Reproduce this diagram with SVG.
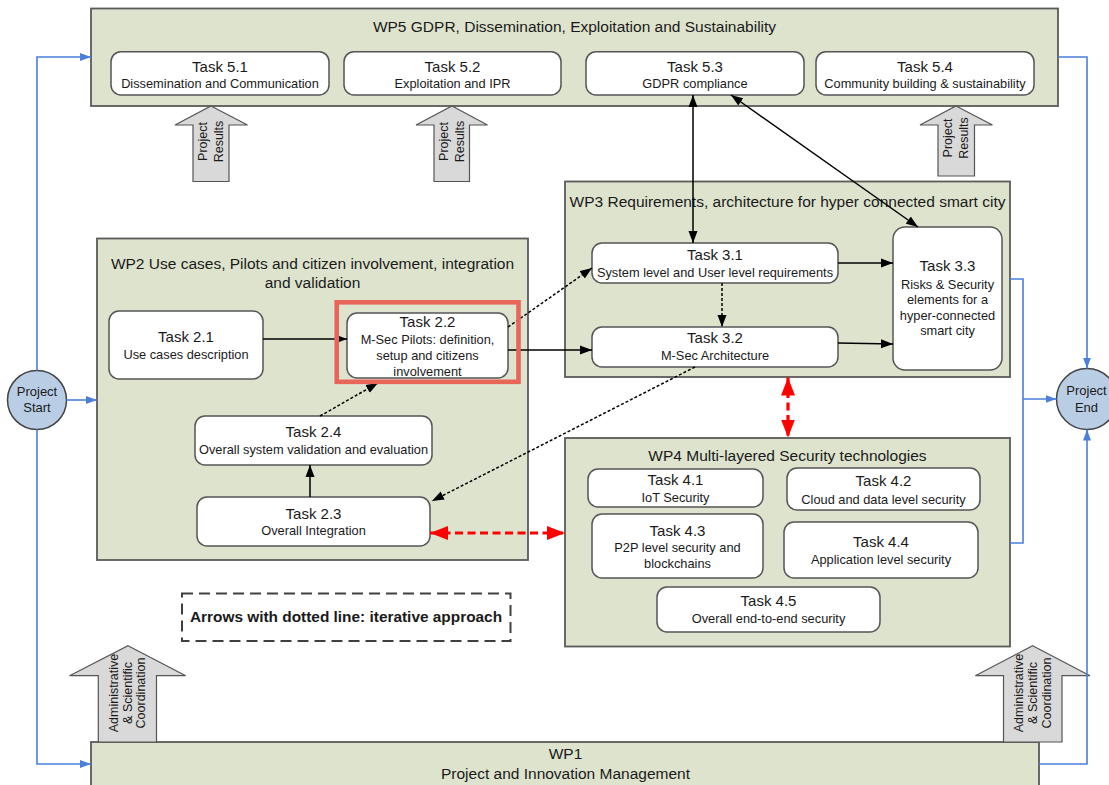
<svg xmlns="http://www.w3.org/2000/svg" width="1109" height="785" viewBox="0 0 1109 785">
<defs>
<marker id="ah" markerUnits="userSpaceOnUse" markerWidth="13" markerHeight="10" refX="12" refY="5" orient="auto-start-reverse"><path d="M0,0.5 L12,5 L0,9.5 z" fill="#000"/></marker>
<marker id="ahb" markerUnits="userSpaceOnUse" markerWidth="12" markerHeight="10" refX="11" refY="5" orient="auto-start-reverse"><path d="M0,1 L11,5 L0,9 z" fill="#4a7fdc"/></marker>
<marker id="ahr" markerUnits="userSpaceOnUse" markerWidth="19" markerHeight="15" refX="18" refY="7.5" orient="auto-start-reverse"><path d="M0,0.5 L18,7.5 L0,14.5 z" fill="#ff0000"/></marker>
</defs>
<style>
.wp{fill:#dee3cd;stroke:#5a5a5a;stroke-width:1.8}
.task{fill:#fff;stroke:#555;stroke-width:1.5}
.t{font-family:"Liberation Sans",Arial,sans-serif;fill:#1a1a1a;text-anchor:middle}
.wt{font-size:15.5px}
.tt{font-size:15px}
.st{font-size:12.8px}
.rt{font-size:12.5px}
.big{fill:#d9d9d9;stroke:#555;stroke-width:1.2}
.circ{fill:#b9cde5;stroke:#444;stroke-width:1.5}
.ln{stroke:#000;stroke-width:1.5;fill:none}
.dot{stroke:#000;stroke-width:1.5;fill:none;stroke-dasharray:3 2}
.blue{stroke:#4a7fdc;stroke-width:1.6;fill:none}
.red{stroke:#ff0000;stroke-width:3.2;fill:none;stroke-dasharray:8 4.5}
</style>
<rect x="0" y="0" width="1109" height="785" fill="#fff"/>

<g id="wp5">
<rect class="wp" x="91" y="8.5" width="967" height="97.5"/>
<text class="t wt" x="574.5" y="32">WP5 GDPR, Dissemination, Exploitation and Sustainability</text>
</g>
<g id="wp3">
<rect class="wp" x="565" y="181.5" width="445" height="195.5"/>
<text class="t wt" x="787.5" y="207">WP3 Requirements, architecture for hyper connected smart city</text>
</g>
<g id="wp2">
<rect class="wp" x="97" y="238.5" width="431" height="321.5"/>
<text class="t wt" x="312.5" y="269">WP2 Use cases, Pilots and citizen involvement, integration</text>
<text class="t wt" x="312.5" y="288">and validation</text>
</g>
<g id="wp4">
<rect class="wp" x="565" y="438" width="445" height="208.5"/>
<text class="t wt" x="787.5" y="461">WP4 Multi-layered Security technologies</text>
</g>
<g id="wp1">
<rect class="wp" x="91" y="742" width="948" height="50"/>
<text class="t wt" x="565.5" y="759">WP1</text>
<text class="t wt" x="565.5" y="779">Project and Innovation Management</text>
</g>

<g id="results1">
<polygon class="big" points="211,106 247.5,125 229,125 229,181.5 193,181.5 193,125 175,125"/>
<text class="t rt" transform="translate(211,141.5) rotate(-90)"><tspan x="0" y="-4">Project</tspan><tspan x="0" y="11.5">Results</tspan></text>
</g>
<g id="results2">
<polygon class="big" points="452,106 487.5,125 469.5,125 469.5,181.5 434,181.5 434,125 416,125"/>
<text class="t rt" transform="translate(452,141.5) rotate(-90)"><tspan x="0" y="-4">Project</tspan><tspan x="0" y="11.5">Results</tspan></text>
</g>
<g id="results3">
<polygon class="big" points="956,106 992.5,125 974.5,125 974.5,176 938,176 938,125 920,125"/>
<text class="t rt" transform="translate(956,138) rotate(-90)"><tspan x="0" y="-4">Project</tspan><tspan x="0" y="11.5">Results</tspan></text>
</g>
<g id="coord-left">
<polygon class="big" points="128,645.7 185.7,675.7 156.5,675.7 156.5,742 98.3,742 98.3,675.7 69.6,675.7"/>
<text class="t rt" transform="translate(127.5,693) rotate(-90)"><tspan x="0" y="-9.3">Administrative</tspan><tspan x="0" y="4.2">&amp; Scientific</tspan><tspan x="0" y="17.7">Coordination</tspan></text>
</g>
<g id="coord-right">
<polygon class="big" points="1032.7,645.7 1090,675.7 1062,675.7 1062,742 1003.5,742 1003.5,675.7 975.3,675.7"/>
<text class="t rt" transform="translate(1033,693) rotate(-90)"><tspan x="0" y="-9.6">Administrative</tspan><tspan x="0" y="4.1">&amp; Scientific</tspan><tspan x="0" y="17.9">Coordination</tspan></text>
</g>

<g id="task51"><rect class="task" x="111" y="51.7" width="218" height="43.3" rx="10"/>
<text class="t tt" x="220" y="71.5">Task 5.1</text><text class="t st" x="220" y="87.5">Dissemination and Communication</text></g>
<g id="task52"><rect class="task" x="344" y="51.7" width="217" height="43.3" rx="10"/>
<text class="t tt" x="452.5" y="71.5">Task 5.2</text><text class="t st" x="452.5" y="87.5">Exploitation and IPR</text></g>
<g id="task53"><rect class="task" x="586" y="51.7" width="218" height="43.3" rx="10"/>
<text class="t tt" x="695" y="71.5">Task 5.3</text><text class="t st" x="695" y="87.5">GDPR compliance</text></g>
<g id="task54"><rect class="task" x="816" y="51.7" width="218" height="43.3" rx="10"/>
<text class="t tt" x="925" y="71.5">Task 5.4</text><text class="t st" x="925" y="87.5">Community building &amp; sustainability</text></g>

<g id="task31"><rect class="task" x="592" y="243" width="246" height="40" rx="10"/>
<text class="t tt" x="715" y="260">Task 3.1</text><text class="t st" x="715" y="277">System level and User level requirements</text></g>
<g id="task32"><rect class="task" x="592" y="327" width="246" height="40" rx="10"/>
<text class="t tt" x="715" y="343">Task 3.2</text><text class="t st" x="715" y="359.5">M-Sec Architecture</text></g>
<g id="task33"><rect class="task" x="893" y="227" width="109" height="143" rx="12"/>
<text class="t tt" x="947.5" y="271">Task 3.3</text>
<text class="t st" x="947.5" y="288.5">Risks &amp; Security</text>
<text class="t st" x="947.5" y="304">elements for a</text>
<text class="t st" x="947.5" y="319.5">hyper-connected</text>
<text class="t st" x="947.5" y="335">smart city</text></g>

<g id="task21"><rect class="task" x="109" y="311" width="154" height="68" rx="10"/>
<text class="t tt" x="186" y="341.5">Task 2.1</text><text class="t st" x="186" y="358.5">Use cases description</text></g>
<g id="task22"><rect class="task" x="347" y="313" width="161" height="65" rx="10"/>
<text class="t tt" x="427.5" y="326.5">Task 2.2</text>
<text class="t st" x="427.5" y="343.5">M-Sec Pilots: definition,</text>
<text class="t st" x="427.5" y="359.5">setup and citizens</text>
<text class="t st" x="427.5" y="375.5">involvement</text></g>
<g id="task24"><rect class="task" x="195" y="416" width="237" height="49" rx="10"/>
<text class="t tt" x="313.5" y="436.5">Task 2.4</text><text class="t st" x="313.5" y="454">Overall system validation and evaluation</text></g>
<g id="task23"><rect class="task" x="197" y="497" width="233" height="49" rx="10"/>
<text class="t tt" x="313.5" y="518.5">Task 2.3</text><text class="t st" x="313.5" y="535">Overall Integration</text></g>

<g id="task41"><rect class="task" x="588" y="469" width="175" height="38" rx="10"/>
<text class="t tt" x="675.5" y="485">Task 4.1</text><text class="t st" x="675.5" y="501.5">IoT Security</text></g>
<g id="task42"><rect class="task" x="787" y="468" width="193" height="42" rx="10"/>
<text class="t tt" x="883.5" y="486">Task 4.2</text><text class="t st" x="883.5" y="503.5">Cloud and data level security</text></g>
<g id="task43"><rect class="task" x="592" y="514" width="171" height="64" rx="10"/>
<text class="t tt" x="677.5" y="535.5">Task 4.3</text>
<text class="t st" x="677.5" y="552">P2P level security and</text>
<text class="t st" x="677.5" y="567.5">blockchains</text></g>
<g id="task44"><rect class="task" x="784" y="522" width="194" height="56" rx="10"/>
<text class="t tt" x="881" y="546.5">Task 4.4</text><text class="t st" x="881" y="563.5">Application level security</text></g>
<g id="task45"><rect class="task" x="657" y="587" width="223" height="45" rx="10"/>
<text class="t tt" x="768.5" y="606">Task 4.5</text><text class="t st" x="768.5" y="623">Overall end-to-end security</text></g>

<g id="project-start">
<circle class="circ" cx="37" cy="400" r="29.5"/>
<text class="t" style="font-size:13px" x="37" y="396">Project</text>
<text class="t" style="font-size:13px" x="37" y="411.5">Start</text>
</g>
<g id="project-end">
<circle class="circ" cx="1087" cy="399" r="30.5"/>
<text class="t" style="font-size:13px" x="1086.5" y="395">Project</text>
<text class="t" style="font-size:13px" x="1086.5" y="411.5">End</text>
</g>

<g id="legend">
<rect x="182" y="593.5" width="328.5" height="47.5" fill="none" stroke="#404040" stroke-width="2" stroke-dasharray="11 6"/>
<text class="t" style="font-size:15.4px;font-weight:bold" x="346" y="621.5">Arrows with dotted line: iterative approach</text>
</g>

<g id="connectors">
<line class="ln" x1="693" y1="95" x2="693" y2="243" marker-start="url(#ah)" marker-end="url(#ah)"/>
<line class="ln" x1="731" y1="95" x2="918" y2="227" marker-start="url(#ah)" marker-end="url(#ah)"/>
<line class="ln" x1="838" y1="263" x2="893" y2="263" marker-end="url(#ah)"/>
<line class="ln" x1="838" y1="343" x2="893" y2="344" marker-end="url(#ah)"/>
<line class="dot" x1="722" y1="283" x2="722" y2="327" marker-end="url(#ah)"/>
<line class="ln" x1="508" y1="350" x2="592" y2="350" marker-end="url(#ah)"/>
<line class="dot" x1="508" y1="327" x2="592" y2="268" marker-end="url(#ah)"/>
<line class="dot" x1="695" y1="367" x2="432" y2="501" marker-end="url(#ah)"/>
<line class="ln" x1="263" y1="339" x2="347" y2="339" marker-end="url(#ah)"/>
<line class="ln" x1="310" y1="497" x2="310" y2="465" marker-end="url(#ah)"/>
<line class="dot" x1="320" y1="416" x2="378" y2="383" marker-end="url(#ah)"/>
<line class="red" x1="430" y1="533" x2="565" y2="533" marker-start="url(#ahr)" marker-end="url(#ahr)"/>
<line class="red" x1="788" y1="377.5" x2="788" y2="437.5" marker-start="url(#ahr)" marker-end="url(#ahr)"/>
<polyline class="blue" points="37,370.5 37,57 91,57" marker-end="url(#ahb)"/>
<line class="blue" x1="66.5" y1="400" x2="97" y2="400" marker-end="url(#ahb)"/>
<polyline class="blue" points="37,429.5 37,764 91,764" marker-end="url(#ahb)"/>
<polyline class="blue" points="1058,57 1087,57 1087,368.5" marker-end="url(#ahb)"/>
<polyline class="blue" points="1039,764 1087,764 1087,429.5" marker-end="url(#ahb)"/>
<polyline class="blue" points="1010,279 1023,279 1023,543 1010,543"/>
<line class="blue" x1="1023" y1="399" x2="1056.5" y2="399" marker-end="url(#ahb)"/>
</g>

<g id="highlight">
<rect x="336.7" y="302.3" width="181.8" height="79.5" fill="none" stroke="#e9655a" stroke-width="4.6"/>
</g>
</svg>
